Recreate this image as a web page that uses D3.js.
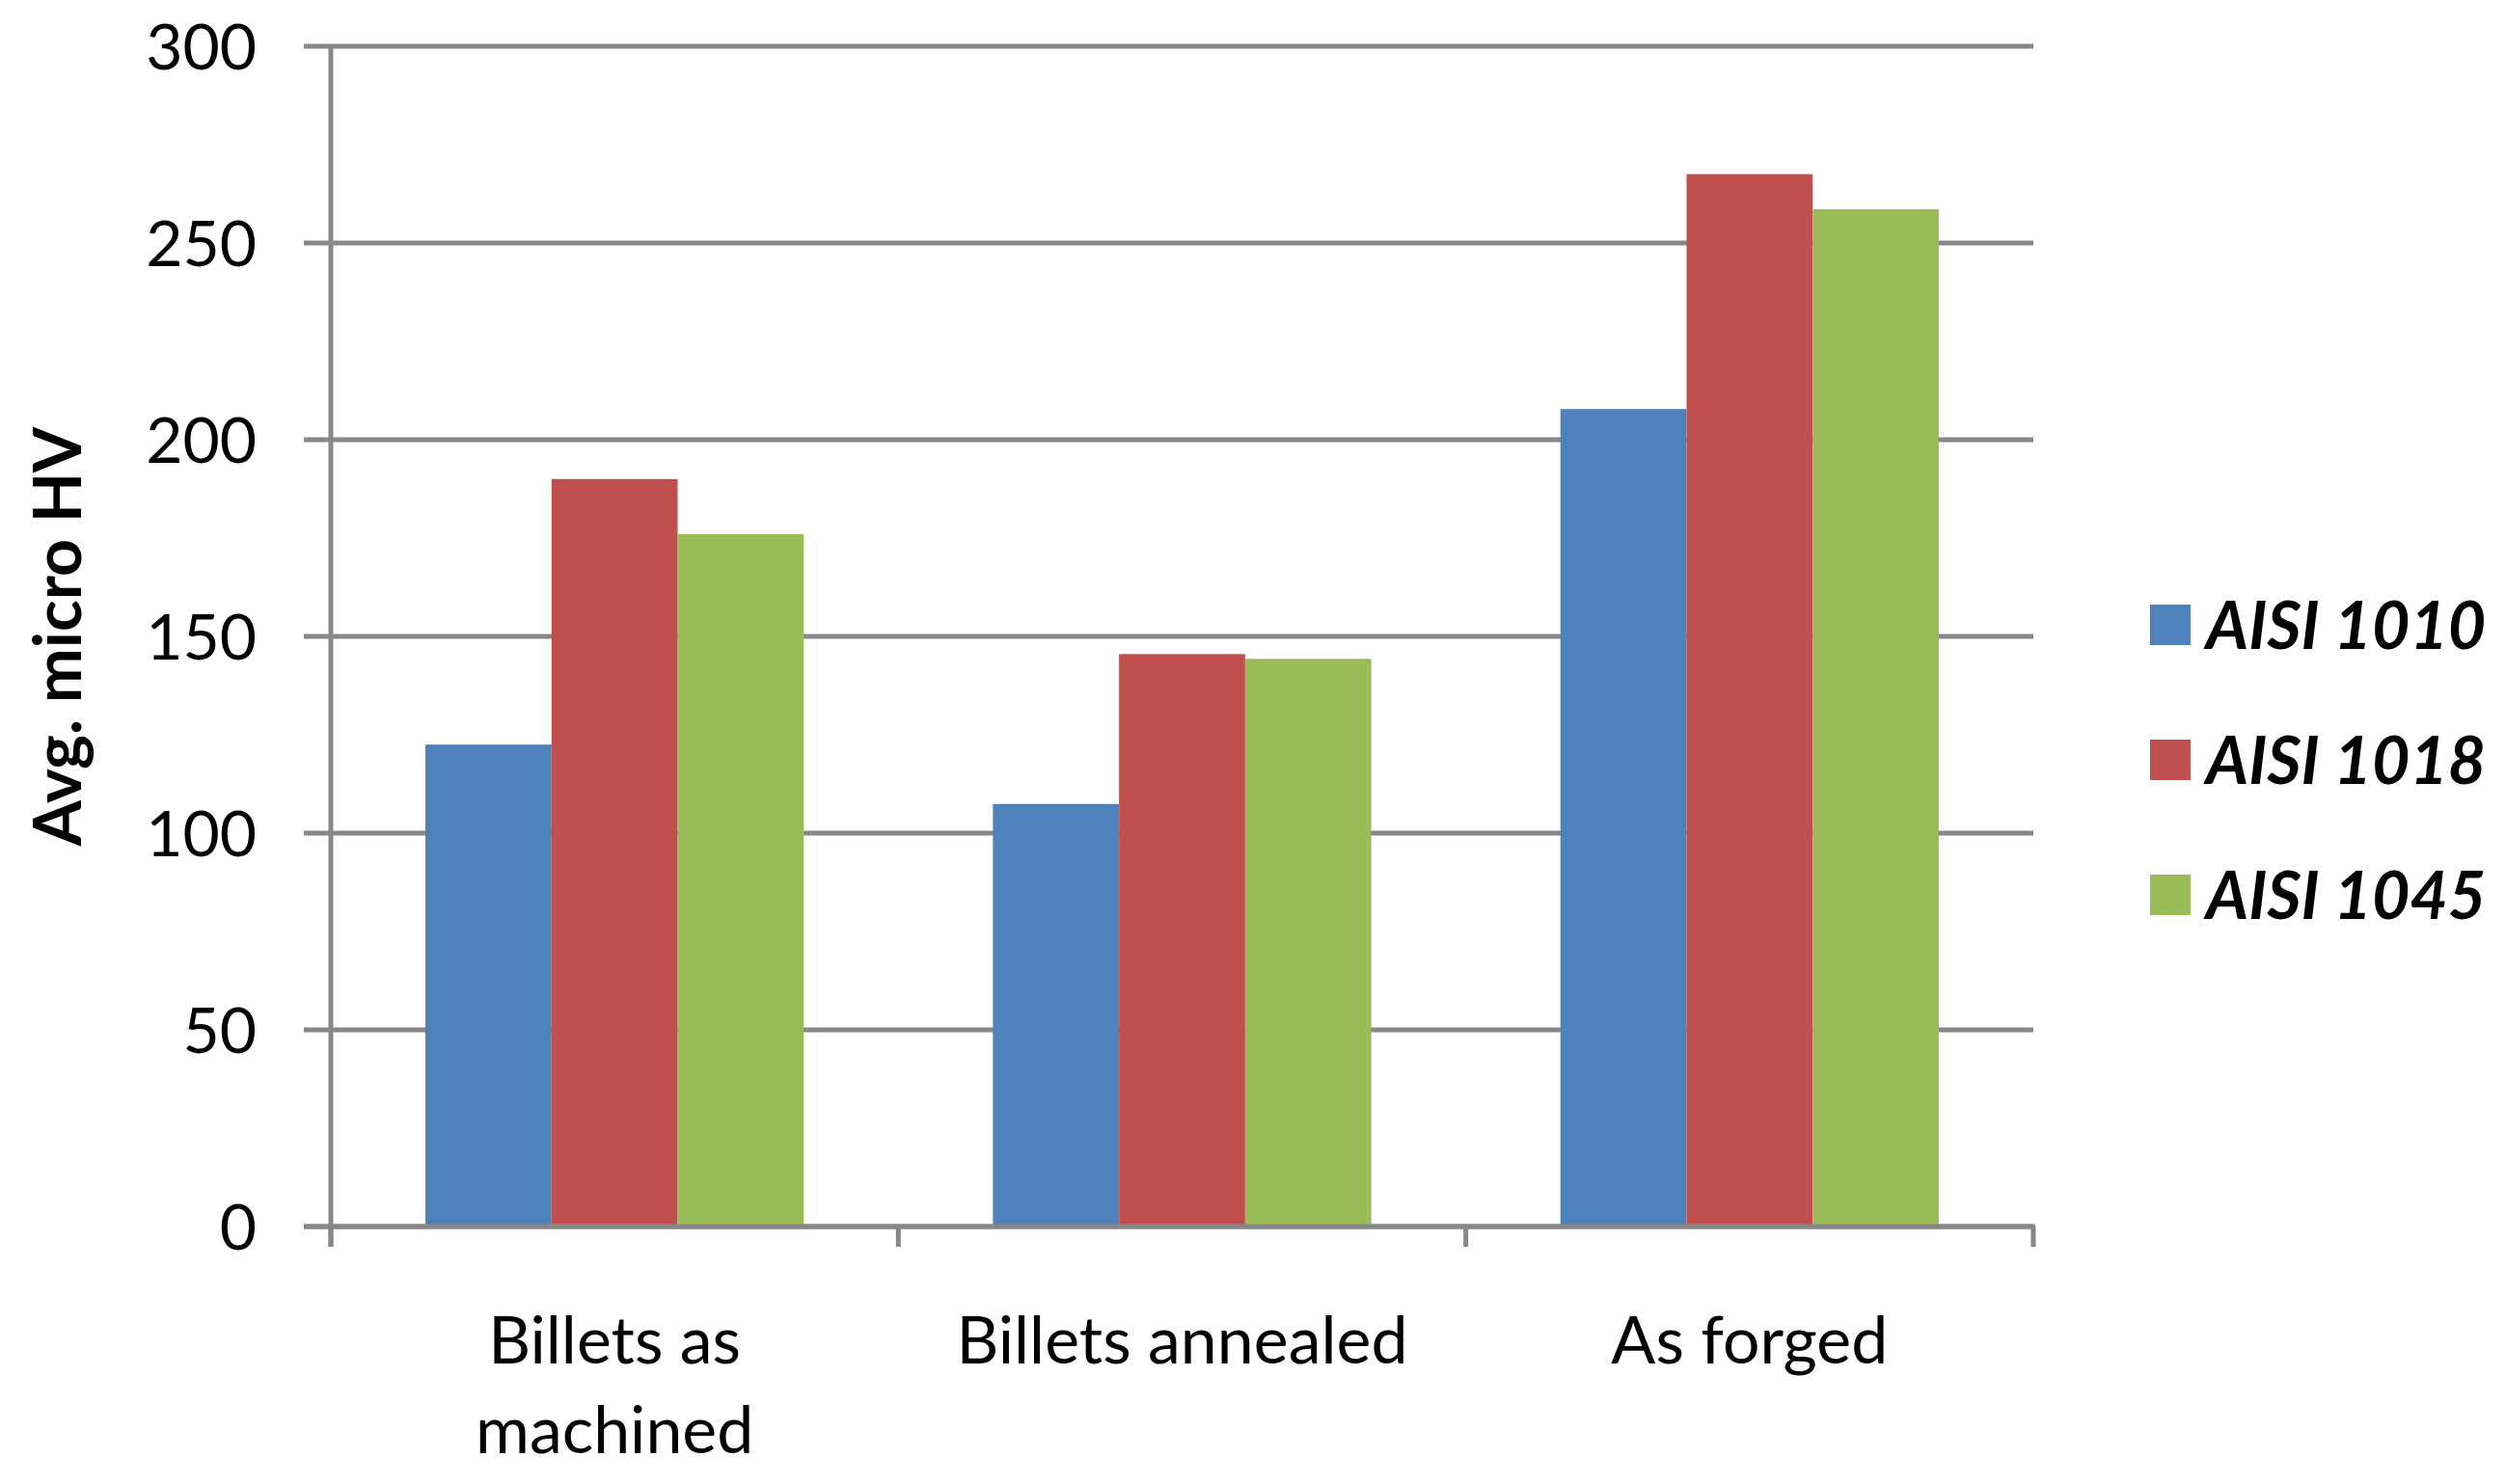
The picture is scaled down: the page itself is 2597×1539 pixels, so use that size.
<!DOCTYPE html>
<html>
<head>
<meta charset="utf-8">
<script src="https://cdn.jsdelivr.net/npm/d3@7"></script>
<style>
  html, body { margin: 0; padding: 0; background: #ffffff; }
  svg { display: block; }
  text { font-family: Lato, "Open Sans", sans-serif; fill: #000; }
</style>
</head>
<body>
<svg id="chart" width="2597" height="1539"></svg>
<script>
// ---- data ----
const categories = [["Billets as", "machined"], ["Billets annealed"], ["As forged"]];
const seriesNames = ["AISI 1010", "AISI 1018", "AISI 1045"];
const seriesColors = ["#4F81BD", "#C0504D", "#9BBB59"];
const aisi1010 = [122.5, 107.4, 207.8];
const aisi1018 = [190, 145.5, 267.5];
const aisi1045 = [176, 144.3, 258.6];
const yTicks = [0, 50, 100, 150, 200, 250, 300];
const yLabel = "Avg. micro HV";

const seriesValues = [aisi1010, aisi1018, aisi1045];

(function () {
  // ---- layout ----
  const svg = d3.select("#chart");
  const pLeft = 343, pRight = 2108, pTop = 48, pBottom = 1272;
  const gridColor = "#878787";

  const catIdx = categories.map((d, i) => i);
  const x0 = d3.scaleBand().domain(catIdx).range([pLeft, pRight]).padding(0);
  const bandW = x0.bandwidth();
  const barW = bandW / 4.5; // Excel gap width 150%
  const x1 = d3.scaleBand().domain([0, 1, 2]).range([0, 3 * barW]).padding(0);
  const groupLeft = i => x0(i) + (bandW - 3 * barW) / 2;
  const y = d3.scaleLinear().domain([0, 300]).range([pBottom, pTop]);

  // gridlines with left tick marks
  svg.append("g")
    .selectAll("line")
    .data(yTicks)
    .join("line")
    .attr("x1", pLeft - 28)
    .attr("x2", pRight)
    .attr("y1", d => y(d))
    .attr("y2", d => y(d))
    .attr("stroke", gridColor)
    .attr("stroke-width", 5);

  // bars
  const groups = svg.append("g")
    .selectAll("g")
    .data(catIdx)
    .join("g")
    .attr("transform", i => `translate(${groupLeft(i)},0)`);

  groups.selectAll("rect")
    .data(i => seriesValues.map((s, k) => ({ k, v: s[i] })))
    .join("rect")
    .attr("x", d => x1(d.k))
    .attr("width", x1.bandwidth())
    .attr("y", d => y(d.v))
    .attr("height", d => y(0) - y(d.v))
    .attr("fill", d => seriesColors[d.k]);

  // vertical axis line
  svg.append("line")
    .attr("x1", pLeft).attr("x2", pLeft)
    .attr("y1", pTop).attr("y2", pBottom + 21)
    .attr("stroke", gridColor).attr("stroke-width", 5);

  // bottom axis line
  svg.append("line")
    .attr("x1", pLeft - 28).attr("x2", pRight + 2)
    .attr("y1", pBottom).attr("y2", pBottom)
    .attr("stroke", gridColor).attr("stroke-width", 5);

  // category boundary ticks
  const boundaries = d3.range(categories.length + 1).map(i => pLeft + bandW * i);
  svg.append("g")
    .selectAll("line")
    .data(boundaries)
    .join("line")
    .attr("x1", d => d).attr("x2", d => d)
    .attr("y1", pBottom).attr("y2", pBottom + 21)
    .attr("stroke", gridColor).attr("stroke-width", 5);

  // y tick labels
  svg.append("g")
    .selectAll("text")
    .data(yTicks)
    .join("text")
    .attr("x", 266)
    .attr("y", d => y(d))
    .attr("dy", "0.36em")
    .attr("text-anchor", "end")
    .attr("font-size", 66)
    .text(d => d);

  // category labels
  const catText = svg.append("g")
    .selectAll("text")
    .data(catIdx)
    .join("text")
    .attr("x", i => x0(i) + bandW / 2)
    .attr("y", 1414)
    .attr("text-anchor", "middle")
    .attr("font-size", 68);
  catText.selectAll("tspan")
    .data(i => categories[i].map(t => ({ t, cx: x0(i) + bandW / 2 })))
    .join("tspan")
    .attr("x", d => d.cx)
    .attr("dy", (d, j) => j === 0 ? 0 : 93)
    .text(d => d.t);

  // y axis title
  svg.append("text")
    .attr("transform", `translate(84,${(pTop + pBottom) / 2}) rotate(-90)`)
    .attr("text-anchor", "middle")
    .attr("font-size", 68)
    .attr("font-weight", "bold")
    .text(yLabel);

  // legend
  const legend = svg.append("g")
    .selectAll("g")
    .data(seriesNames)
    .join("g")
    .attr("transform", (d, i) => `translate(2229,${627 + i * 140})`);
  legend.append("rect")
    .attr("width", 42).attr("height", 42)
    .attr("fill", (d, i) => seriesColors[i]);
  legend.append("text")
    .attr("x", 58)
    .attr("y", 46)
    .attr("font-size", 68)
    .attr("font-weight", "bold")
    .attr("font-style", "italic")
    .text(d => d);
})();
</script>
</body>
</html>
